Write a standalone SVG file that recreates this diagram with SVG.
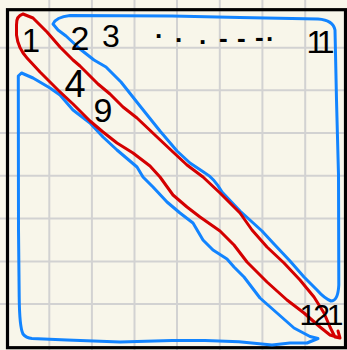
<svg xmlns="http://www.w3.org/2000/svg" width="347" height="350" viewBox="0 0 347 350">
<style>
.grid{stroke:#d2d2d2;stroke-width:2;fill:none}
.blue{stroke:#1284ff;stroke-width:3;fill:none;stroke-linecap:round;stroke-linejoin:round}
.red{stroke:#d40000;stroke-width:3;fill:none;stroke-linecap:round;stroke-linejoin:round}
.num{font-family:"Liberation Sans",Arial,sans-serif;fill:#000;text-anchor:middle}
</style>
<rect x="0" y="0" width="347" height="350" fill="#f8f6ea"/>
<g id="grid" class="grid">
<path d="M49.3 0V350M91.9 0V350M134.5 0V350M177 0V350M219.8 0V350M262.4 0V350M305.2 0V350"/>
<path d="M0 47.7H347M0 90.3H347M0 133H347M0 175.8H347M0 218.6H347M0 261.4H347M0 304H347"/>
</g>
<rect id="frame" x="7.5" y="9.7" width="338" height="338" fill="none" stroke="#000" stroke-width="3.2"/>
<g id="connectors">
<path id="blue-upper" class="blue" d="M58 30 L53 24 Q56 17 70 15.5 L172 16 L240 17.5 L318 19 Q333 20 335 30 L336.5 100 L338.5 175 L338.8 285 Q338 301 331 301 Q324 298 317 290 L304 277 L290 261 L274 244 L262 231 L240 211 L222 192 Q214 178 205 173 L190 163 L177 151 L160 131 L140 106 L121 82 L106 67 L94 60 L80 49 L66 36 Z"/>
<path id="blue-lower" class="blue" d="M33 78 L21.5 73 L18.3 76 L18.5 230 L19.2 297 Q19.5 327 23 334 Q26 338 32 338.5 L67 340 L120 342 L172 340.5 L205 340.5 L239 341.7 L272 345 L290 343 L307 343 L318 338.5 L310 336.5 L294 328 L277 313 L260 298 L244 277 L234 267 L227 259 L213 250 L203 240 L193 223 L180 213 L167 202 L153 187 L143 177 L137 167 L117 150 L103 137 L90 123 L73 110 L60 95 L50 88 Z"/>
<path id="red-loop" class="red" d="M338 331 L340 338 L330 335 L320 327 L304 313 L287 300 L267 282 L247 262 L234 245 L220 231 L200 217 L187 207 L173 195 L160 177 L150 166 L133 153 L117 143 L103 132 L90 121 L73 104 L58 90 L40 72 L27 58 Q18 48 16.5 35 L16.5 25 Q16 16 23 14 L33 18 L47 32 L60 47 L73 60 L80 66 L88 74 L98 84 L110 94 L123 107 L137 118 L156 136 L173 152 L187 165 L203 177 L220 193 L240 213 L252 230 L267 247 L284 263 L300 280 L314 297 L324 313 L330 327 L335 337 L340 338"/>
</g>
<g id="labels">
<text class="num" x="31" y="52" font-size="33">1</text>
<text class="num" x="80" y="50" font-size="34">2</text>
<text class="num" x="111" y="47" font-size="32">3</text>
<text class="num" x="75" y="97" font-size="38">4</text>
<text class="num" x="103" y="122" font-size="34">9</text>
<text class="num" x="318" y="53" font-size="32" letter-spacing="-5">11</text>
<text class="num" x="320" y="325" font-size="30" letter-spacing="-3">121</text>
<text font-family="Liberation Sans,Arial,sans-serif" font-size="26" font-weight="bold" fill="#000"><tspan x="155" y="38">.</tspan><tspan x="175" y="42">.</tspan><tspan x="199" y="44">.</tspan><tspan x="219" y="47">-</tspan><tspan x="237" y="47">-</tspan><tspan x="255" y="46">-</tspan><tspan x="266" y="41">.</tspan></text>
</g>
</svg>
